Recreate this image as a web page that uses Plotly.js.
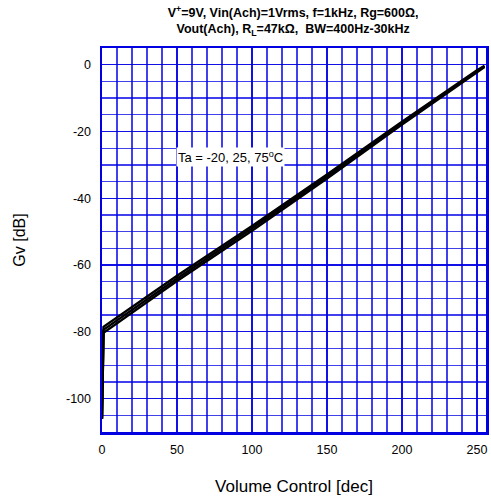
<!DOCTYPE html>
<html>
<head>
<meta charset="utf-8">
<script src="https://cdn.plot.ly/plotly-3.0.1.min.js"></script>
<style>html,body{margin:0;padding:0;background:#fff;}#chart{width:491px;height:500px;}</style>
</head>
<body>
<div id="chart"></div>
<script>
const steps = [0, 1, 50, 100, 150, 200, 250, 255];
const gvTaMinus20 = [-106, -78.5, -63.2, -48.3, -32.9, -17.1, -1.7, -0.3];
const gvTa25 = [-106, -79.4, -64.0, -49.0, -33.5, -17.5, -2.0, -0.5];
const gvTa75 = [-106, -80.3, -64.8, -49.7, -34.1, -17.9, -2.3, -0.7];
const xTicks = [0, 50, 100, 150, 200, 250];
const yTicks = [0, -20, -40, -60, -80, -100];

const series = [gvTaMinus20, gvTa25, gvTa75];
const names = ['Ta=-20°C', 'Ta=25°C', 'Ta=75°C'];
const traces = series.map((ys, i) => ({
  x: steps, y: ys, mode: 'lines', name: names[i],
  line: {color: '#000', width: 2.4}, showlegend: false, hoverinfo: 'skip'
}));

const gridColor = 'rgba(0,0,230,0.75)';
const layout = {
  width: 491, height: 500,
  margin: {l: 102, r: 5, t: 48, b: 68},
  paper_bgcolor: '#fff', plot_bgcolor: '#fff',
  font: {family: 'Liberation Sans, Arial, sans-serif', size: 12.5, color: '#000'},
  title: {
    text: '<b>V<sup>+</sup>=9V, Vin(Ach)=1Vrms, f=1kHz, Rg=600Ω,<br>Vout(Ach), R<sub>L</sub>=47kΩ,  BW=400Hz-30kHz</b>',
    font: {size: 12.5, family: 'Liberation Sans, Arial, sans-serif'},
    x: 0.597, xanchor: 'center', xref: 'container', y: 0.966, yanchor: 'top', yref: 'container'
  },
  xaxis: {
    range: [0, 256], tickmode: 'array', tickvals: xTicks, ticktext: xTicks.map(String),
    showgrid: true, gridcolor: gridColor, gridwidth: 1.3,
    minor: {dtick: 10, tick0: 0, showgrid: true, gridcolor: gridColor, gridwidth: 1.3},
    showline: true, linecolor: '#0000e0', linewidth: 2.5, mirror: true,
    zeroline: false, ticks: '', ticklen: 0, ticklabelstandoff: 4,
    title: {text: 'Volume Control [dec]', font: {size: 17}, standoff: 25}
  },
  yaxis: {
    range: [-110, 5], tickmode: 'array', tickvals: yTicks, ticktext: yTicks.map(String),
    showgrid: true, gridcolor: gridColor, gridwidth: 1.3,
    minor: {dtick: 5, tick0: 0, showgrid: true, gridcolor: gridColor, gridwidth: 1.3},
    showline: true, linecolor: '#0000e0', linewidth: 2.5, mirror: true,
    zeroline: false, ticks: '', ticklen: 0, ticklabelstandoff: 6,
    title: {text: 'Gv [dB]', font: {size: 16}, standoff: 37}
  },
  annotations: [{
    x: 49, y: -27.5, xref: 'x', yref: 'y', xanchor: 'left', yanchor: 'middle',
    text: 'Ta = -20, 25, 75<sup>o</sup>C', showarrow: false,
    font: {size: 13, color: '#000'}, bgcolor: '#fff', borderpad: 1
  }]
};
Plotly.newPlot('chart', traces, layout, {staticPlot: true, displayModeBar: false});
</script>
</body>
</html>
